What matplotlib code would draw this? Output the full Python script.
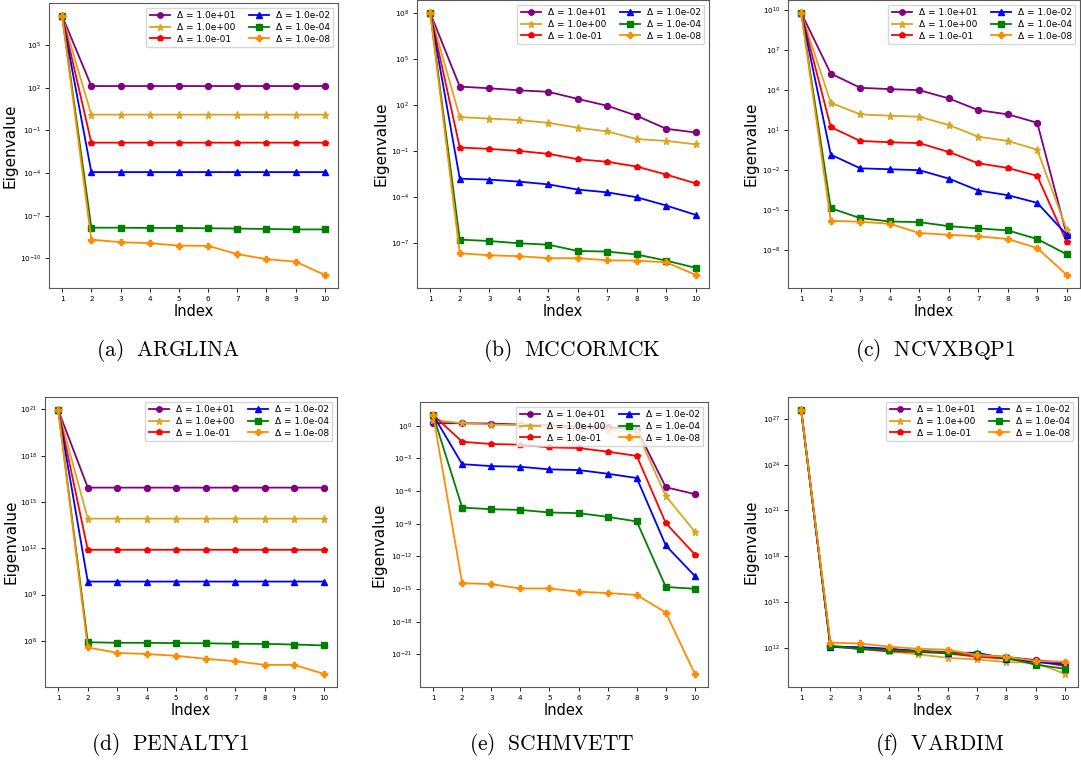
import numpy as np
import matplotlib
matplotlib.use("Agg")
import matplotlib.pyplot as plt
from matplotlib.ticker import NullLocator

plt.rcParams['mathtext.fontset'] = 'cm'

# Eigenvalue index on the x axis
index = np.arange(1, 11)

# legend entries (trust-region parameter)
deltas = ['1.0e+01', '1.0e+00', '1.0e-01', '1.0e-02', '1.0e-04', '1.0e-08']
colors = ['purple', 'goldenrod', 'red', 'blue', 'green', 'darkorange']
markers = ['o', '*', 'p', '^', 's', 'P']

# log10 of the eigenvalues (one row per delta)
arglina = [
    [7.05, 2.12, 2.12, 2.12, 2.12, 2.12, 2.12, 2.12, 2.12, 2.12],
    [7.05, 0.11, 0.11, 0.11, 0.11, 0.11, 0.11, 0.11, 0.11, 0.11],
    [7.05, -1.86, -1.86, -1.86, -1.86, -1.86, -1.86, -1.86, -1.86, -1.86],
    [7.05, -3.93, -3.93, -3.93, -3.93, -3.93, -3.93, -3.93, -3.93, -3.93],
    [7.05, -7.84, -7.84, -7.86, -7.86, -7.88, -7.9, -7.93, -7.96, -7.96],
    [7.05, -8.68, -8.86, -8.93, -9.1, -9.12, -9.7, -10.05, -10.23, -11.17],
]
mccormck = [
    [8.0, 3.21, 3.10, 2.97, 2.87, 2.41, 1.96, 1.31, 0.46, 0.22],
    [8.0, 1.22, 1.13, 1.03, 0.85, 0.53, 0.29, -0.21, -0.33, -0.55],
    [8.0, -0.76, -0.85, -0.98, -1.17, -1.52, -1.69, -2.0, -2.52, -3.1],
    [8.0, -2.79, -2.85, -2.98, -3.16, -3.5, -3.68, -4.0, -4.54, -5.15],
    [8.0, -6.76, -6.85, -7.0, -7.09, -7.5, -7.54, -7.73, -8.13, -8.6],
    [8.0, -7.65, -7.78, -7.84, -7.97, -7.97, -8.11, -8.13, -8.24, -9.06],
]
ncvxbqp1 = [
    [9.8, 5.25, 4.18, 4.08, 4.0, 3.38, 2.5, 2.18, 1.55, -6.9],
    [9.8, 3.05, 2.18, 2.08, 2.0, 1.38, 0.5, 0.18, -0.48, -6.5],
    [9.8, 1.22, 0.18, 0.08, 0.02, -0.65, -1.5, -1.85, -2.45, -7.43],
    [9.8, -0.85, -1.88, -1.95, -2.02, -2.65, -3.55, -3.9, -4.48, -6.88],
    [9.8, -4.88, -5.63, -5.88, -5.93, -6.23, -6.4, -6.55, -7.2, -8.35],
    [9.8, -5.83, -5.9, -6.05, -6.75, -6.88, -7.0, -7.2, -7.88, -9.9],
]
penalty1 = [
    [20.95, 15.93, 15.93, 15.93, 15.93, 15.93, 15.93, 15.93, 15.93, 15.93],
    [20.95, 13.92, 13.92, 13.92, 13.92, 13.92, 13.92, 13.92, 13.92, 13.92],
    [20.95, 11.9, 11.9, 11.9, 11.9, 11.9, 11.9, 11.9, 11.9, 11.9],
    [20.95, 9.84, 9.84, 9.84, 9.84, 9.84, 9.84, 9.84, 9.84, 9.84],
    [20.95, 5.91, 5.87, 5.87, 5.85, 5.84, 5.81, 5.8, 5.76, 5.7],
    [20.95, 5.57, 5.22, 5.14, 5.03, 4.83, 4.68, 4.44, 4.44, 3.86],
]
schmvett = [
    [0.24, 0.24, 0.21, 0.12, 0.03, -0.06, -0.15, -0.27, -5.64, -6.27],
    [0.55, 0.24, 0.12, 0.06, -0.03, -0.18, -0.4, -0.52, -6.45, -9.73],
    [1.0, -1.46, -1.67, -1.73, -1.98, -2.04, -2.37, -2.76, -8.94, -11.82],
    [1.0, -3.52, -3.7, -3.76, -4.0, -4.06, -4.4, -4.79, -10.99, -13.8],
    [1.0, -7.51, -7.66, -7.72, -7.96, -8.02, -8.36, -8.78, -14.8, -14.97],
    [1.0, -14.45, -14.54, -14.94, -14.94, -15.24, -15.36, -15.54, -17.15, -22.8],
]
vardim = [
    [27.57, 12.11, 12.0, 11.9, 11.78, 11.72, 11.56, 11.39, 11.19, 11.0],
    [27.57, 12.15, 11.9, 11.78, 11.56, 11.34, 11.23, 11.06, 11.02, 10.29],
    [27.57, 12.07, 11.93, 11.76, 11.72, 11.63, 11.41, 11.28, 11.13, 10.8],
    [27.57, 12.04, 12.04, 11.93, 11.78, 11.67, 11.67, 11.28, 11.06, 10.91],
    [27.57, 12.11, 11.93, 11.85, 11.76, 11.69, 11.56, 11.34, 10.89, 10.62],
    [27.57, 12.33, 12.28, 12.07, 11.93, 11.87, 11.52, 11.41, 11.13, 11.08],
]

problems = ['ARGLINA', 'MCCORMCK', 'NCVXBQP1', 'PENALTY1', 'SCHMVETT', 'VARDIM']
panel_data = [arglina, mccormck, ncvxbqp1, penalty1, schmvett, vardim]
# first major tick exponent, ticks every 3 decades
tick_start = [-10, -7, -8, 6, -21, 12]

W, H = 1081, 767
fig = plt.figure(figsize=(W / 100, H / 100), dpi=100)

# axes boxes in pixels: left, top, right, bottom
boxes = [
    (49, 3, 338, 288), (417, 0, 709, 288), (788, 0, 1080, 288),
    (45, 397, 337, 687), (420, 402, 708, 687), (788, 397, 1078, 687),
]
ylabel_off = [-31, -28, -29, -27, -33, -29]
caption_pos = [(168, 350), (572, 350), (935, 350), (170, 745), (552, 745), (940, 745)]

for i, (name, data) in enumerate(zip(problems, panel_data)):
    l, t, r, b = boxes[i]
    ax = fig.add_axes([l / W, 1 - b / H, (r - l) / W, (b - t) / H])
    for j, row in enumerate(data):
        ax.plot(index, np.power(10.0, row), color=colors[j], marker=markers[j],
                markersize=4.3 if markers[j] != '*' else 5.2, linewidth=1.3,
                label='Δ = ' + deltas[j])
    ax.set_yscale('log')
    lo, hi = ax.get_ylim()
    exps = np.arange(tick_start[i], np.log10(hi), 3)
    ax.set_yticks(10.0 ** exps)
    ax.set_ylim(lo, hi)
    ax.yaxis.set_minor_locator(NullLocator())
    ax.set_xticks(index)
    ax.tick_params(labelsize=5.2, length=3, width=0.6, pad=2.5)
    for s in ax.spines.values():
        s.set_color('0.35')
    ax.set_xlabel('Index', fontsize=10.5)
    ax.set_ylabel('Eigenvalue', fontsize=11)
    ax.yaxis.set_label_coords(ylabel_off[i] / (r - l), 0.5)
    ax.xaxis.set_label_coords(0.5, -16 / (b - t))
    ax.legend(ncol=2, fontsize=6.5, loc='upper right', handlelength=2.2,
              columnspacing=1.5, labelspacing=0.3, borderpad=0.4,
              markerscale=0.9)
    cx, cy = caption_pos[i]
    fig.text(cx / W, 1 - cy / H,
             r'$\mathrm{(%s)\ \ %s}$' % ('abcdef'[i], name),
             fontsize=15.5, ha='center', va='center')

fig.savefig('out.png', dpi=100)
